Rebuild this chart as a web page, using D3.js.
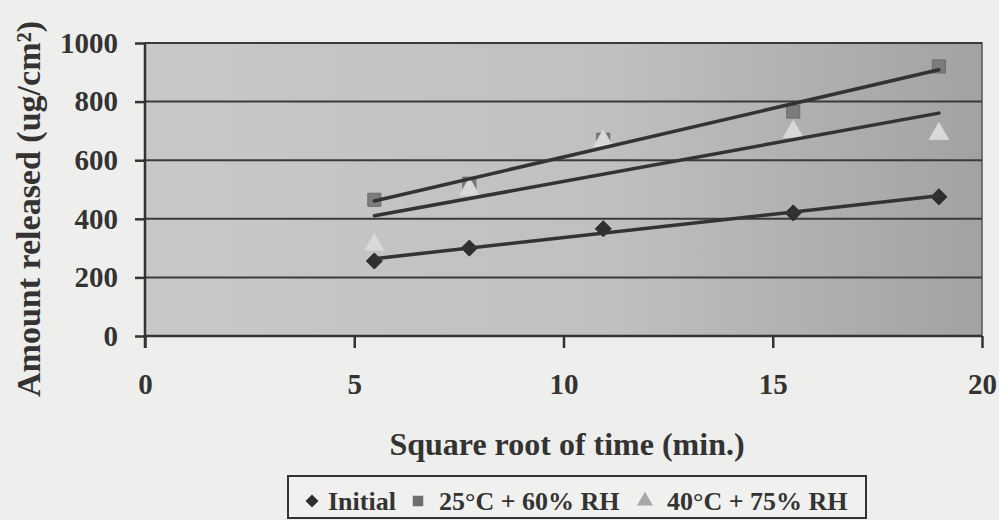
<!DOCTYPE html>
<html><head><meta charset="utf-8">
<script src="https://cdn.jsdelivr.net/npm/d3@7"></script>
<style>body{margin:0;background:#eeeeec;}svg{display:block;}</style>
</head><body>
<svg id="c" width="999" height="520"></svg>
<script>
const xValues = [5.48, 7.75, 10.95, 15.49, 18.97];
const initialValues = [256, 300, 366, 420, 475];
const rh60Values = [465, 520, 670, 766, 920];
const rh75Values = [311, 500, 665, 697, 690];
const seriesNames = ["Initial", "25°C + 60% RH", "40°C + 75% RH"];
const xTicks = [0, 5, 10, 15, 20];
const yTicks = [0, 200, 400, 600, 800, 1000];

const svg = d3.select("#c");
const m = {l:145, r:982, t:43, b:336};
const x = d3.scaleLinear().domain([0,20]).range([m.l, m.r]);
const y = d3.scaleLinear().domain([0,1000]).range([m.b, m.t]);
const font = "'Liberation Serif','Times New Roman',serif";
const ink = "#333";

svg.append("rect").attr("width",999).attr("height",520).attr("fill","#eeeeec");
const defs = svg.append("defs");
const g = defs.append("linearGradient").attr("id","bg").attr("x1","0").attr("x2","1").attr("y1","0").attr("y2","0");
g.append("stop").attr("offset","0").attr("stop-color","#c8c8c8");
g.append("stop").attr("offset","0.55").attr("stop-color","#c0c0c0");
g.append("stop").attr("offset","1").attr("stop-color","#a2a2a2");
svg.append("rect").attr("x",m.l).attr("y",m.t).attr("width",m.r-m.l).attr("height",m.b-m.t)
  .attr("fill","url(#bg)").attr("stroke","#555").attr("stroke-width",1.5);

// gridlines
svg.append("g").selectAll("line").data(yTicks.filter(d=>d>0)).join("line")
  .attr("x1",m.l).attr("x2",m.r).attr("y1",d=>y(d)).attr("y2",d=>y(d))
  .attr("stroke","#3a3a3a").attr("stroke-width",2);

// axes
const yAxis = svg.append("g").attr("transform",`translate(${m.l},0)`)
  .call(d3.axisLeft(y).tickValues(yTicks).tickSize(10).tickPadding(17).tickFormat(d3.format("d")));
const xAxis = svg.append("g").attr("transform",`translate(0,${m.b})`)
  .call(d3.axisBottom(x).tickValues(xTicks).tickSize(12).tickPadding(25).tickFormat(d3.format("d")));
[yAxis, xAxis].forEach(a=>{
  a.select(".domain").attr("stroke",ink).attr("stroke-width",2.5);
  a.selectAll(".tick line").attr("stroke",ink).attr("stroke-width",2.5);
  a.selectAll("text").attr("font-family",font).attr("font-weight","bold").attr("font-size",29).attr("fill",ink);
});
xAxis.select(".domain").attr("d",`M${m.l},0H${m.r}`);
yAxis.select(".domain").attr("d",`M0,${m.b+12}V${m.t}`);

// regression trendlines (least squares, as in the original spreadsheet chart)
function fit(xs, ys){
  const mx=d3.mean(xs), my=d3.mean(ys);
  const sxy=d3.sum(xs,(v,i)=>(v-mx)*(ys[i]-my)), sxx=d3.sum(xs,v=>(v-mx)*(v-mx));
  const s=sxy/sxx; return v=>my+s*(v-mx);
}
const series = [initialValues, rh60Values, rh75Values];
const line = d3.line().x(d=>x(d[0])).y(d=>y(d[1]));
const x0 = xValues[0], x1 = xValues[xValues.length-1];

// markers
const diamond = {draw(ctx, size){const r=Math.sqrt(size)/2; ctx.moveTo(0,-r);ctx.lineTo(r,0);ctx.lineTo(0,r);ctx.lineTo(-r,0);ctx.closePath();}};
const sym = [diamond, d3.symbolSquare, d3.symbolTriangle];
const fills = ["#2e2e2e", "#7c7c7c", "#d9d9d9"];
const strokes = ["#2e2e2e", "#6a6a6a", "#d4d4d4"];
const sizes = [260, 170, 170];
[1,2,0].forEach(i=>{
  svg.append("g").selectAll("path").data(series[i]).join("path")
    .attr("transform",(d,j)=>`translate(${x(xValues[j])},${y(d)})`)
    .attr("d",d3.symbol().type(sym[i]).size(sizes[i])).attr("fill",fills[i]).attr("stroke",strokes[i]).attr("stroke-width",1);
});
series.forEach(s=>{
  const f = fit(xValues, s);
  svg.append("path").attr("d",line([[x0,f(x0)],[x1,f(x1)]])).attr("stroke",ink).attr("stroke-width",3.5)
    .attr("stroke-linecap","round").attr("fill","none");
});

// titles
svg.append("text").attr("transform","translate(40,209) rotate(-90)").attr("text-anchor","middle")
  .attr("font-family",font).attr("font-weight","bold").attr("font-size",34).attr("fill",ink)
  .text("Amount released (ug/cm²)");
svg.append("text").attr("x",567).attr("y",455).attr("text-anchor","middle")
  .attr("font-family",font).attr("font-weight","bold").attr("font-size",32).attr("fill",ink)
  .text("Square root of time (min.)");

// legend
const lg = svg.append("g");
lg.append("rect").attr("x",288).attr("y",476).attr("width",578).attr("height",42).attr("fill","#f0f0ee").attr("stroke",ink).attr("stroke-width",2);
const legX = [312, 418, 645];
const legDx = [16, 21, 22];
const legFill = ["#2e2e2e","#6e6e6e","#a8a8a8"];
seriesNames.forEach((n,i)=>{
  lg.append("path").attr("transform",`translate(${legX[i]},${501})`).attr("d",d3.symbol().type(sym[i]).size(i===0?170:110)).attr("fill",legFill[i]);
  lg.append("text").attr("x",legX[i]+legDx[i]).attr("y",510).attr("font-family",font).attr("font-weight","bold").attr("font-size",26).attr("fill",ink).text(n);
});
</script>
</body></html>
